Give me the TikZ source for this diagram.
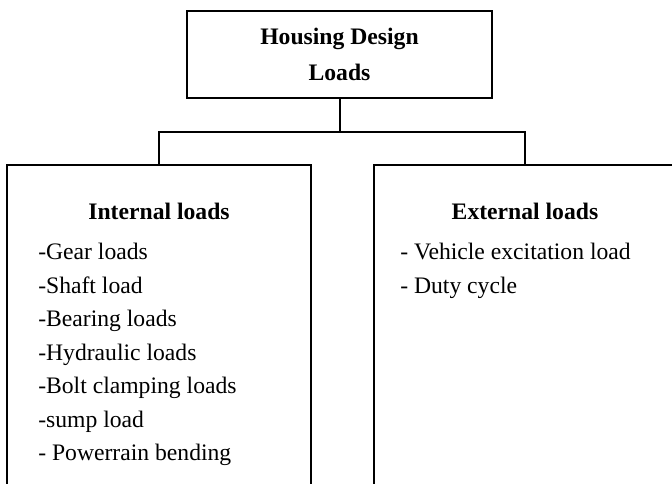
\documentclass[tikz,border=0pt]{standalone}
\usepackage{fontspec}
\setmainfont{Liberation Serif}
\usetikzlibrary{positioning}
\tikzset{
  font=\fontsize{17.8}{26}\selectfont,
  %
  box/.style={draw=black, line width=1.5pt, fill=white, align=center,
              inner sep=0pt},
  panel/.style={box, anchor=north, minimum height=9.2cm},
  link/.style={draw=black, line width=1.5pt},
  %
  head/.style={font=\fontsize{17.8}{26}\selectfont\bfseries, anchor=base,
               inner sep=0pt},
  item/.style={anchor=base west, inner sep=0pt},
}
\begin{document}
\begin{tikzpicture}[x=1cm, y=1cm]

  \clip (0,0) rectangle (17.78,12.806);

  % --- the title box ----------------------------------------------------
  \node[box, minimum width=8.07cm, minimum height=2.30cm,
        font=\fontsize{17.8}{26}\selectfont\bfseries] (title) at (8.983,11.364)
    {Housing Design\\[1pt]Loads};

  % --- the two load panels ----------------------------------------------
  \node[panel, minimum width=8.04cm] (intern) at (4.207,8.467) {};
  \node[panel, minimum width=7.99cm] (extern) at (13.890,8.467) {};

  \coordinate (split) at (8.983,9.313);
  \draw[link] (title.south) -- (split);
  \draw[link] (split) -| (intern.north);
  \draw[link] (split) -| (extern.north);

  % --- internal loads ---------------------------------------------------
  \node[head] (inthead) at (4.207,6.985) {Internal loads};
  \foreach \t [count=\i from 0] in {-Gear loads, -Shaft load, -Bearing loads,
      -Hydraulic loads, -Bolt clamping loads, -sump load, - Powerrain bending}
    { \node[item] (int\i) at (1.005,5.927-0.886*\i) {\t}; }

  % --- external loads ---------------------------------------------------
  \node[head] (exthead) at (13.890,6.985) {External loads};
  \node[item] (ext0) at (10.583,5.927) {- Vehicle excitation load};
  \node[item] (ext1) at (10.583,5.041) {- Duty cycle};

\end{tikzpicture}
\end{document}
